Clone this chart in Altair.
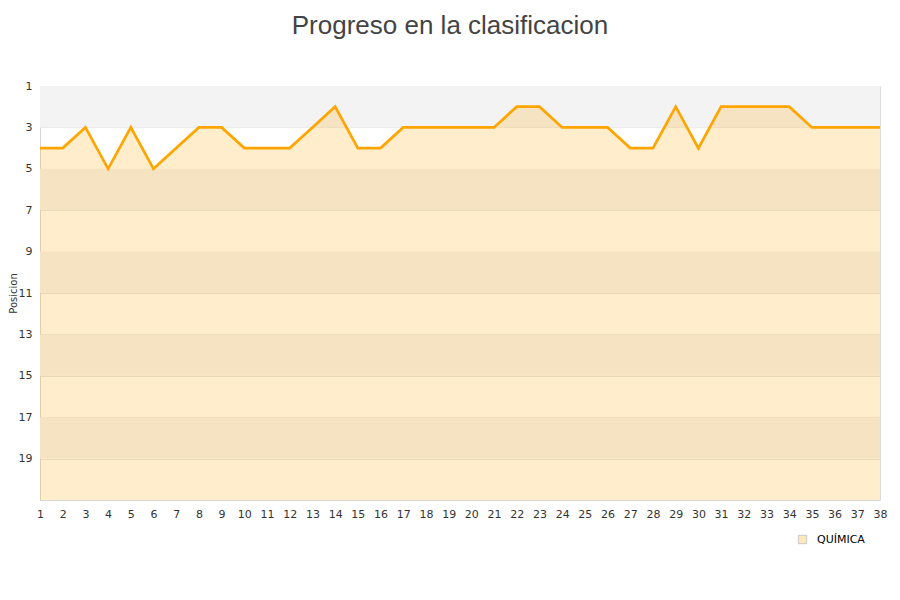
import altair as alt
import pandas as pd

jornadas = list(range(1, 39))
posiciones = [4, 4, 3, 5, 3, 5, 4, 3, 3, 4, 4, 4, 3, 2, 4, 4, 3, 3, 3, 3, 3, 2, 2, 3, 3, 3, 4, 4, 2, 4, 2, 2, 2, 2, 3, 3, 3, 3]
equipo = "QUÍMICA"
y_ticks = [1, 3, 5, 7, 9, 11, 13, 15, 17, 19]
band_start = [1, 5, 9, 13, 17]
band_end = [3, 7, 11, 15, 19]

df = pd.DataFrame({"jornada": jornadas, "pos": posiciones, "equipo": equipo, "base": 21})
bands = pd.DataFrame({"y": band_start, "y2": band_end, "x": 1, "x2": 38})

xscale = alt.Scale(domain=[1, 38], nice=False, zero=False)
yscale = alt.Scale(domain=[1, 21], reverse=True, nice=False, zero=False)

xaxis = alt.Axis(values=jornadas, title=None, grid=False, ticks=False,
                 labelPadding=8, labelFontSize=11, labelColor="#333",
                 labelFont="DejaVu Sans", domainColor="#d6d6d6",
                 labelOverlap=False, labelFlush=False)
yaxis = alt.Axis(values=y_ticks, title="Posicion", ticks=False,
                 labelPadding=8, labelFontSize=11, labelColor="#333",
                 labelFont="DejaVu Sans", gridColor="#e4e4e4",
                 domainColor="#d6d6d6", labelOverlap=False,
                 titleFont="DejaVu Sans", titleFontSize=10,
                 titleFontWeight="normal", titleColor="#333",
                 titleAngle=270, titleX=-27, titleY=207,
                 titleAlign="center", titleBaseline="middle")

band_layer = alt.Chart(bands).mark_rect(color="#f3f3f3").encode(
    x=alt.X("x:Q", scale=xscale, axis=xaxis),
    x2="x2:Q",
    y=alt.Y("y:Q", scale=yscale, axis=yaxis),
    y2="y2:Q",
)

area = alt.Chart(df).mark_area(fillOpacity=0.2, interpolate="linear").encode(
    x=alt.X("jornada:Q", scale=xscale, axis=xaxis),
    y=alt.Y("pos:Q", scale=yscale, axis=yaxis),
    y2="base:Q",
    fill=alt.Fill("equipo:N", scale=alt.Scale(range=["#ffa500"]),
                  legend=alt.Legend(title=None, orient="none", legendX=757, legendY=448,
                                    symbolType="square", symbolSize=70,
                                    symbolOpacity=0.25, symbolStrokeColor="#333",
                                    symbolStrokeWidth=1, labelFontSize=11,
                                    labelOffset=9,
                                    labelFont="DejaVu Sans", labelColor="#000")),
)

line = alt.Chart(df).mark_line(color="#ffa500", strokeWidth=2.7).encode(
    x=alt.X("jornada:Q", scale=xscale, axis=xaxis),
    y=alt.Y("pos:Q", scale=yscale, axis=yaxis),
)

chart = (band_layer + area + line).properties(
    width=840,
    height=414,
    title=alt.TitleParams("Progreso en la clasificacion", fontSize=26, font="Liberation Sans",
                          fontWeight="normal", color="#444", anchor="middle", dx=-10, offset=41),
    padding={"left": 32, "top": 78, "right": 12, "bottom": 80},
    autosize=alt.AutoSizeParams(type="none"),
).configure_view(stroke="#dddddd", strokeWidth=1)

chart.save("out.html", embed_options={"renderer": "svg", "actions": False})
